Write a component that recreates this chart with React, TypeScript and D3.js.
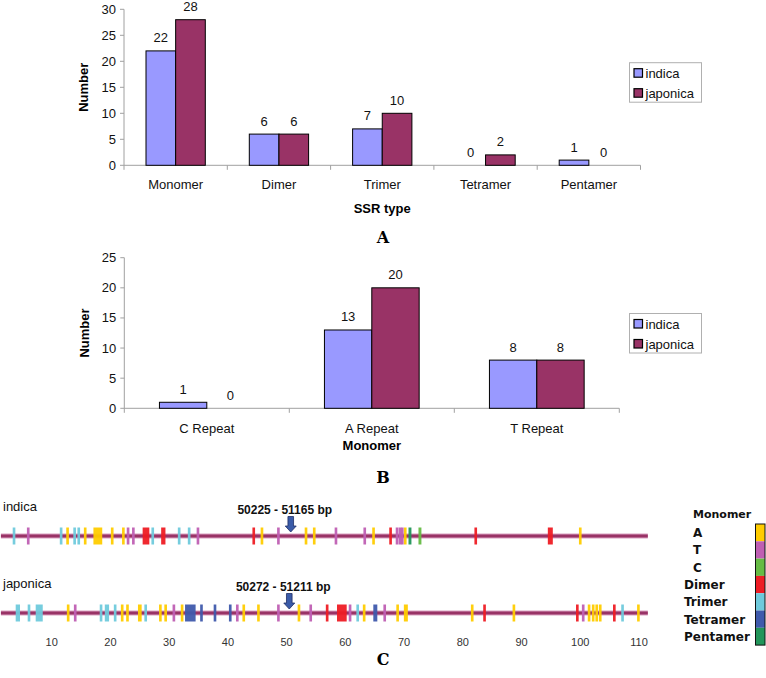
import React from "react";
import * as d3 from "d3";

// ---------- Data ----------
const seriesNames = ["indica", "japonica"];

const ssrTypes = ["Monomer", "Dimer", "Trimer", "Tetramer", "Pentamer"];
const ssrIndica = [22, 6, 7, 0, 1];
const ssrJaponica = [28, 6, 10, 2, 0];
const ssrTicks = [0, 5, 10, 15, 20, 25, 30];

const monoTypes = ["C Repeat", "A Repeat", "T Repeat"];
const monoIndica = [1, 13, 8];
const monoJaponica = [0, 20, 8];
const monoTicks = [0, 5, 10, 15, 20, 25];

// Panel C: positions along the sequence (kb); [type, position, length]
const mapTicks = [10, 20, 30, 40, 50, 60, 70, 80, 90, 100, 110];
const mapRange = [1.35, 111.5];
const legendTypes = ["A", "T", "C", "Dimer", "Trimer", "Tetramer", "Pentamer"];

const indicaMarks: [string, number, number][] = [
  ["Trimer", 3.58, 0.45], ["T", 6.0, 0.45], ["Trimer", 11.6, 0.45], ["A", 12.7, 0.45],
  ["Trimer", 13.9, 0.45], ["Trimer", 14.6, 0.45], ["A", 15.7, 0.45], ["A", 17.85, 1.5],
  ["A", 20.3, 0.45], ["A", 22.2, 0.45], ["T", 23.0, 0.45], ["T", 23.9, 0.45],
  ["Dimer", 26.05, 1.14], ["Trimer", 27.2, 0.45], ["Dimer", 29.0, 0.73], ["Trimer", 31.7, 0.45],
  ["Trimer", 33.4, 0.45], ["T", 34.9, 0.45], ["Dimer", 44.4, 0.45], ["A", 45.8, 0.45],
  ["T", 48.6, 0.45], ["A", 53.3, 0.45], ["A", 54.7, 0.45], ["T", 58.4, 0.45],
  ["T", 63.3, 0.45], ["A", 64.8, 0.45], ["Dimer", 67.7, 0.45], ["T", 68.8, 0.45],
  ["T", 69.3, 0.45], ["T", 69.7, 0.45], ["A", 70.2, 0.45], ["Pentamer", 71.0, 0.5],
  ["C", 72.7, 0.5], ["Dimer", 82.2, 0.45], ["Dimer", 94.9, 0.85], ["A", 100.0, 0.45],
];

const japonicaMarks: [string, number, number][] = [
  ["Trimer", 4.23, 0.73], ["Trimer", 6.13, 0.45], ["Trimer", 7.87, 1.2], ["A", 12.8, 0.45],
  ["T", 14.0, 0.45], ["Trimer", 18.4, 0.45], ["Trimer", 19.4, 0.73], ["Trimer", 20.8, 0.45],
  ["A", 22.0, 0.45], ["A", 22.9, 0.45], ["A", 25.0, 0.63], ["Trimer", 26.0, 0.45],
  ["A", 28.5, 0.45], ["A", 29.4, 0.45], ["T", 30.8, 0.45], ["A", 32.2, 0.45],
  ["Tetramer", 33.6, 1.8], ["Tetramer", 35.5, 0.45], ["Tetramer", 37.8, 0.45], ["Tetramer", 40.4, 0.45],
  ["T", 41.6, 0.45], ["A", 42.7, 0.45], ["A", 45.2, 0.45], ["T", 48.6, 0.45],
  ["A", 52.1, 0.45], ["T", 54.1, 0.45], ["Dimer", 56.9, 0.45], ["Dimer", 59.4, 1.65],
  ["T", 60.8, 0.45], ["Trimer", 62.1, 0.45], ["A", 63.2, 0.45], ["Tetramer", 65.1, 0.68],
  ["T", 66.7, 0.45], ["A", 68.9, 0.45], ["A", 70.3, 0.68], ["A", 81.6, 0.45],
  ["Dimer", 83.7, 0.45], ["A", 88.7, 0.45], ["Dimer", 99.5, 0.45], ["T", 100.5, 0.45],
  ["A", 101.5, 0.45], ["A", 102.2, 0.45], ["A", 102.8, 0.45], ["A", 103.4, 0.45],
  ["Dimer", 105.8, 0.45], ["Trimer", 107.2, 0.45], ["A", 109.9, 0.45],
];

const indicaTarget = { label: "50225 - 51165 bp", pos: 50.7 };
const japonicaTarget = { label: "50272 - 51211 bp", pos: 50.45 };

// ---------- Styles ----------
const barColors = ["#9999ff", "#993366"];
const typeColors: Record<string, string> = {
  A: "#ffcc00",
  T: "#bf5fb3",
  C: "#66bb44",
  Dimer: "#ee1c24",
  Trimer: "#6fcadc",
  Tetramer: "#3f5aac",
  Pentamer: "#22955a",
};
const SANS = "'Liberation Sans', Arial, sans-serif";
const SERIF = "'DejaVu Serif', 'Liberation Serif', serif";
const AXIS = "#a0a0a0";

type BarProps = {
  cats: string[];
  a: number[];
  b: number[];
  ticks: number[];
  left: number;
  right: number;
  top: number;
  bottom: number;
  xTitle: string;
  panel: string;
  catY: number;
  titleY: number;
  panelY: number;
  yTitleX: number;
  legendY: number;
};

function BarPanel(p: BarProps) {
  const yMax = p.ticks[p.ticks.length - 1];
  const x = d3.scaleBand<string>().domain(p.cats).range([p.left, p.right]).padding(0);
  const bw = x.bandwidth();
  const inner = d3
    .scaleBand<string>()
    .domain(seriesNames)
    .range([bw * 0.213, bw * 0.787])
    .padding(0);
  const y = d3.scaleLinear().domain([0, yMax]).range([p.bottom, p.top]);
  const vals = [p.a, p.b];
  return (
    <g>
      {/* y axis */}
      <line x1={p.left} x2={p.left} y1={p.top} y2={p.bottom + 4.5} stroke={AXIS} />
      {p.ticks.map((t) => (
        <g key={t}>
          <line x1={p.left - 4} x2={p.left} y1={y(t)} y2={y(t)} stroke={AXIS} />
          <text x={p.left - 8} y={y(t) + 4.5} textAnchor="end" fontSize={13} fontFamily={SANS} fill="#111">
            {t}
          </text>
        </g>
      ))}
      {/* x axis */}
      <line x1={p.left} x2={p.right} y1={p.bottom} y2={p.bottom} stroke={AXIS} />
      {p.cats.map((c) => (
        <line key={c} x1={x(c)! + bw} x2={x(c)! + bw} y1={p.bottom} y2={p.bottom + 4.5} stroke={AXIS} />
      ))}
      {/* bars */}
      {p.cats.map((c, i) =>
        seriesNames.map((s, j) => {
          const v = vals[j][i];
          const x0 = x(c)! + inner(s)!;
          return (
            <g key={c + s}>
              {v > 0 && (
                <rect
                  x={x0}
                  y={y(v)}
                  width={inner.bandwidth()}
                  height={p.bottom - y(v)}
                  fill={barColors[j]}
                  stroke="#000"
                  strokeWidth={1}
                />
              )}
              <text
                x={x0 + inner.bandwidth() / 2}
                y={y(v) - 8.5}
                textAnchor="middle"
                fontSize={13}
                fontFamily={SANS}
                fill="#111"
              >
                {v}
              </text>
            </g>
          );
        })
      )}
      {/* category labels */}
      {p.cats.map((c) => (
        <text key={c} x={x(c)! + bw / 2} y={p.catY} textAnchor="middle" fontSize={13} fontFamily={SANS} fill="#111">
          {c}
        </text>
      ))}
      <text x={(p.left + p.right) / 2} y={p.titleY} textAnchor="middle" fontSize={13} fontWeight="bold" fontFamily={SANS}>
        {p.xTitle}
      </text>
      <text
        transform={`translate(${p.yTitleX},${(p.top + p.bottom) / 2}) rotate(-90)`}
        textAnchor="middle"
        fontSize={13}
        fontWeight="bold"
        fontFamily={SANS}
      >
        Number
      </text>
      {/* legend */}
      <g transform={`translate(629.5,${p.legendY})`}>
        <rect x={0} y={0} width={72} height={39.5} fill="#fff" stroke="#b0b0b0" />
        {seriesNames.map((s, j) => (
          <g key={s} transform={`translate(0,${10.5 + j * 20})`}>
            <rect x={4.5} y={-4.5} width={8.5} height={8.5} fill={barColors[j]} stroke="#000" strokeWidth={1.2} />
            <text x={16} y={4.5} fontSize={13} fontFamily={SANS} fill="#111">
              {s}
            </text>
          </g>
        ))}
      </g>
      <text x={383} y={p.panelY} textAnchor="middle" fontSize={16} fontWeight="bold" fontFamily={SERIF}>
        {p.panel}
      </text>
    </g>
  );
}

function Strip({
  marks,
  lineY,
  name,
  nameY,
  target,
  xs,
}: {
  marks: [string, number, number][];
  lineY: number;
  name: string;
  nameY: number;
  target: { label: string; pos: number };
  xs: d3.ScaleLinear<number, number>;
}) {
  const ax = xs(target.pos);
  const arrowBottom = lineY - 4;
  const arrowTop = arrowBottom - 15.5;
  const arrow = d3.path();
  arrow.moveTo(ax - 2.8, arrowTop);
  arrow.lineTo(ax + 2.8, arrowTop);
  arrow.lineTo(ax + 2.8, arrowBottom - 6);
  arrow.lineTo(ax + 5.5, arrowBottom - 6);
  arrow.lineTo(ax, arrowBottom);
  arrow.lineTo(ax - 5.5, arrowBottom - 6);
  arrow.lineTo(ax - 2.8, arrowBottom - 6);
  arrow.closePath();
  return (
    <g>
      <text x={3} y={nameY} fontSize={13} fontFamily={SANS} fill="#111">
        {name}
      </text>
      <line x1={xs(mapRange[0])} x2={xs(mapRange[1])} y1={lineY} y2={lineY} stroke="#d9a0c0" strokeWidth={5} />
      <line x1={xs(mapRange[0])} x2={xs(mapRange[1])} y1={lineY} y2={lineY} stroke="#993366" strokeWidth={3} />
      {marks.map(([t, pos, len], i) => {
        const w = Math.max(2.6, xs(pos + len / 2) - xs(pos - len / 2));
        return (
          <rect key={i} x={xs(pos) - w / 2} y={lineY - 8.5} width={w} height={17} fill={typeColors[t]} opacity={0.95} />
        );
      })}
      <path d={arrow.toString()} fill="#3a5ba8" stroke="#1f2f66" strokeWidth={0.8} />
      <text x={ax - 6} y={arrowTop - 2.5} textAnchor="middle" fontSize={12} fontWeight="bold" fontFamily={SANS} fill="#111">
        {target.label}
      </text>
    </g>
  );
}

export default function App() {
  const xs = d3.scaleLinear().domain([0, 110]).range([-7, 639]);
  const legendTop = 524;
  const segH = 17.3;
  return (
    <svg
      width={766}
      height={678}
      style={{ position: "absolute", left: 0, top: 0, background: "#fff" }}
    >
      <rect width={766} height={678} fill="#fff" />
      <BarPanel
        cats={ssrTypes}
        a={ssrIndica}
        b={ssrJaponica}
        ticks={ssrTicks}
        left={124}
        right={640.5}
        top={9.3}
        bottom={165.3}
        xTitle="SSR type"
        panel="A"
        catY={188.5}
        titleY={212.5}
        panelY={243}
        yTitleX={87.5}
        legendY={62.7}
      />
      <BarPanel
        cats={monoTypes}
        a={monoIndica}
        b={monoJaponica}
        ticks={monoTicks}
        left={124.3}
        right={619.3}
        top={257.7}
        bottom={408.3}
        xTitle="Monomer"
        panel="B"
        catY={432.5}
        titleY={449.5}
        panelY={483}
        yTitleX={88.8}
        legendY={313.5}
      />
      <Strip marks={indicaMarks} lineY={536} name="indica" nameY={510.5} target={indicaTarget} xs={xs} />
      <Strip marks={japonicaMarks} lineY={613} name="japonica" nameY={587.5} target={japonicaTarget} xs={xs} />
      {mapTicks.map((t) => (
        <text key={t} x={xs(t)} y={645.5} textAnchor="middle" fontSize={11} fontFamily={SANS} fill="#333">
          {t}
        </text>
      ))}
      {/* legend C */}
      <text x={693} y={518} fontSize={11} fontWeight="bold" fontFamily="'DejaVu Sans', sans-serif" fill="#111">
        Monomer
      </text>
      {legendTypes.map((t, i) => (
        <g key={t}>
          <rect x={755.5} y={legendTop + i * segH} width={9.5} height={segH} fill={typeColors[t]} />
          <text
            x={i < 3 ? 693 : 684}
            y={legendTop + i * segH + segH / 2 + 4.5}
            fontSize={12}
            fontWeight="bold"
            fontFamily="'DejaVu Sans', sans-serif"
            fill="#111"
          >
            {t}
          </text>
        </g>
      ))}
      <rect x={755.5} y={legendTop} width={9.5} height={segH * legendTypes.length} fill="none" stroke="#111" strokeWidth={1} />
      <text x={383} y={665} textAnchor="middle" fontSize={16} fontWeight="bold" fontFamily={SERIF}>
        C
      </text>
    </svg>
  );
}
